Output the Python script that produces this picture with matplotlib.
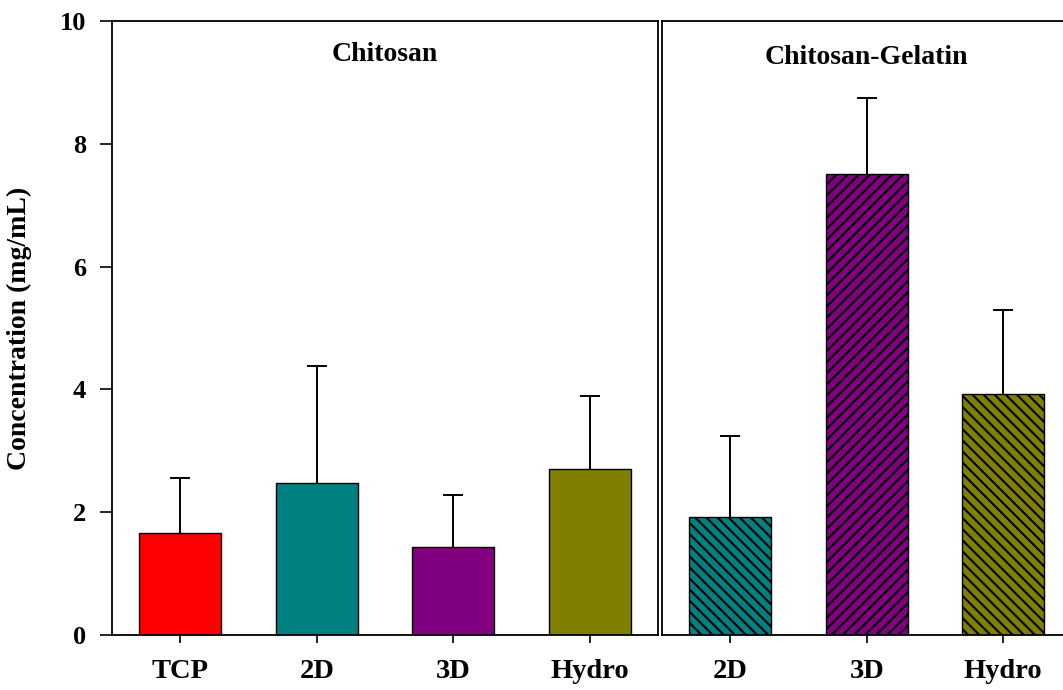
import matplotlib
matplotlib.use("Agg")
import matplotlib.pyplot as plt
import numpy as np

plt.rcParams['font.family'] = ['Liberation Serif', 'DejaVu Serif']
plt.rcParams['font.weight'] = 'bold'
plt.rcParams['hatch.linewidth'] = 1.5

# Chitosan scaffolds
cs_labels = ['TCP', '2D', '3D', 'Hydro']
cs_means = [1.66, 2.48, 1.43, 2.70]
cs_err = [0.90, 1.90, 0.85, 1.19]
cs_colors = ['#ff0000', '#008080', '#800080', '#808000']

# Chitosan-Gelatin scaffolds
cg_labels = ['2D', '3D', 'Hydro']
cg_means = [1.92, 7.51, 3.92]
cg_err = [1.32, 1.24, 1.37]
cg_colors = ['#008080', '#800080', '#808000']
cg_hatches = ['\\\\\\', '///', '\\\\\\']

fig = plt.figure(figsize=(10.63, 6.9), dpi=100)
ax1 = fig.add_axes([112 / 1063, 55 / 690, 546 / 1063, 614 / 690])
ax2 = fig.add_axes([662 / 1063, 55 / 690, 409.5 / 1063, 614 / 690])

err_kw = dict(ecolor='black', elinewidth=1.4, capsize=7, capthick=1.4)


def draw_panel(ax, labels, means, errs, colors, hatches, title, title_x, title_y):
    x = np.arange(len(labels))
    bars = ax.bar(x, means, width=0.6, color=colors, edgecolor='black',
                  linewidth=1.0, zorder=2)
    if hatches is not None:
        for b, h in zip(bars, hatches):
            b.set_hatch(h)
    # upper error bars only
    _, caps, _ = ax.errorbar(x, means, yerr=[np.zeros(len(errs)), errs],
                             fmt='none', zorder=1, **err_kw)
    caps[0].set_visible(False)
    ax.set_xlim(-0.5, len(labels) - 0.5)
    ax.set_ylim(0, 10)
    ax.set_xticks(x)
    ax.set_xticklabels(labels, fontsize=20.5, fontweight='bold')
    ax.tick_params(axis='x', direction='out', length=6, width=1.2, pad=11)
    for s in ax.spines.values():
        s.set_linewidth(1.3)
    ax.text(title_x, title_y, title, transform=ax.get_xaxis_transform(),
            ha='center', va='center', fontsize=20, fontweight='bold')


draw_panel(ax1, cs_labels, cs_means, cs_err, cs_colors, None,
           'Chitosan', 1.5, 0.945)
ax1.set_yticks([0, 2, 4, 6, 8, 10])
ax1.set_yticklabels(['0', '2', '4', '6', '8', '10'], fontsize=19, fontweight='bold')
ax1.tick_params(axis='y', direction='out', length=8.5, width=1.2, pad=10)
ax1.set_ylabel('Concentration (mg/mL)', fontsize=20, fontweight='bold', labelpad=20)

draw_panel(ax2, cg_labels, cg_means, cg_err, cg_colors, cg_hatches,
           'Chitosan-Gelatin', 1, 0.94)
ax2.set_yticks([])

fig.savefig('out.png', dpi=100)
